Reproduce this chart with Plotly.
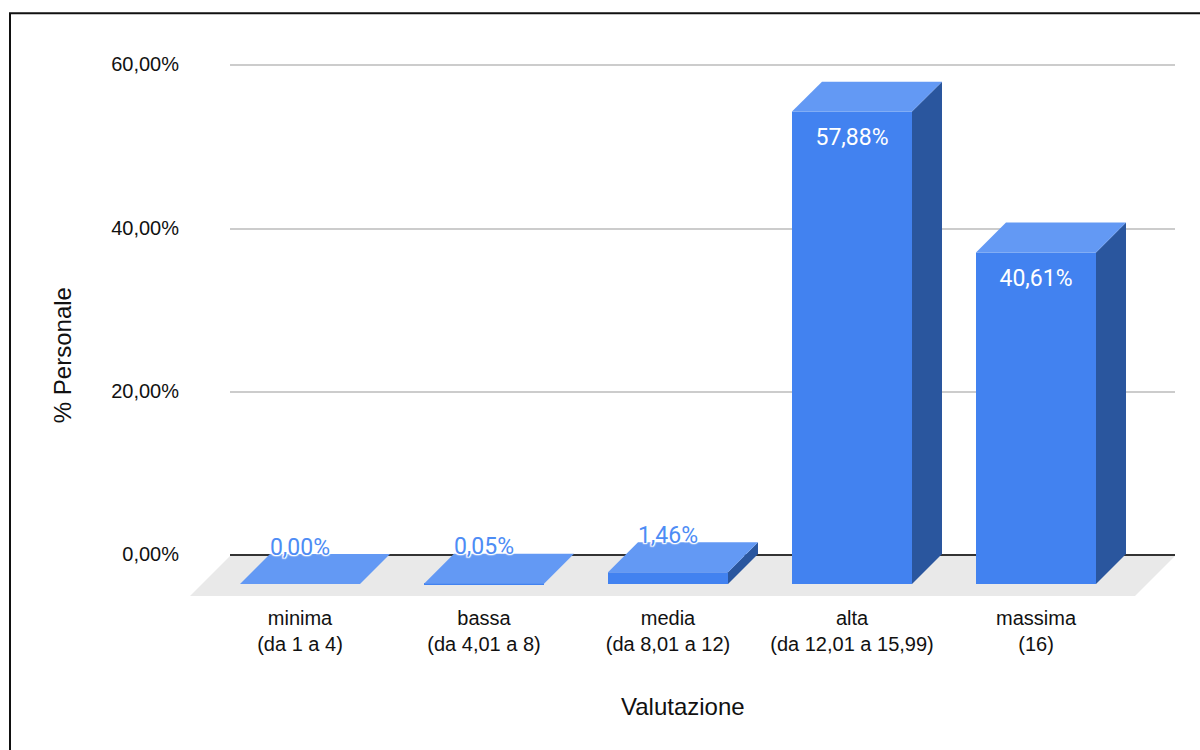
import plotly.graph_objects as go

# Chart content
categories = ["minima<br>(da 1 a 4)", "bassa<br>(da 4,01 a 8)", "media<br>(da 8,01 a 12)",
              "alta<br>(da 12,01 a 15,99)", "massima<br>(16)"]
values = [0.00, 0.05, 1.46, 57.88, 40.61]
value_labels = ["0,00%", "0,05%", "1,46%", "57,88%", "40,61%"]
y_ticks = [0, 20, 40, 60]
y_tick_labels = ["0,00%", "20,00%", "40,00%", "60,00%"]

# Plot frame in pixels
W, H = 1200, 750
LEFT, RIGHT, TOP, BOTTOM = 230, 1175, 48.67, 600
Y_MIN, Y_MAX = -5.5, 62
PX_PER_Y = (BOTTOM - TOP) / (Y_MAX - Y_MIN)
PITCH = 184.0
CENTER0 = 300.0
X_MIN = (LEFT - CENTER0) / PITCH
X_MAX = (RIGHT - CENTER0) / PITCH

# Pseudo-3D extrusion
DEPTH_X = 30 / PITCH
DEPTH_Y = 30 / PX_PER_Y
BAR_WIDTH = 120 / PITCH
BAR_BASE = -29 / PX_PER_Y

FRONT = "#4282f0"
TOP_FACE = "#6399f4"
SIDE = "#2a569e"
FLOOR = "#e9e9e9"
TEXT = "#111111"
SANS = "Liberation Sans, Arial, sans-serif"


def paper_x(px):
    return (px - LEFT) / (RIGHT - LEFT)


def paper_y(px):
    return (BOTTOM - px) / (BOTTOM - TOP)


def polygon(xs, ys, color, name):
    return go.Scatter(x=xs + xs[:1], y=ys + ys[:1], mode="lines", fill="toself", fillcolor=color,
                      line=dict(width=0, color=color), hoverinfo="skip", showlegend=False,
                      cliponaxis=False, name=name)


fig = go.Figure()

# Front faces
idx = list(range(len(categories)))
fig.add_trace(go.Bar(x=idx, y=values, base=BAR_BASE, width=BAR_WIDTH,
                     marker=dict(color=FRONT, line=dict(width=0)),
                     showlegend=False, hoverinfo="skip", cliponaxis=False))

# Top and side faces derived from each value
for i, v in zip(idx, values):
    x0 = i - BAR_WIDTH / 2
    x1 = i + BAR_WIDTH / 2
    top = BAR_BASE + v
    fig.add_trace(polygon([x1, x1 + DEPTH_X, x1 + DEPTH_X, x1],
                          [BAR_BASE, BAR_BASE + DEPTH_Y, top + DEPTH_Y, top], SIDE, "side"))
    fig.add_trace(polygon([x0, x1, x1 + DEPTH_X, x0 + DEPTH_X],
                          [top, top, top + DEPTH_Y, top + DEPTH_Y], TOP_FACE, "top"))

# Value labels: above the small bars with a white halo, inside the tall ones
halo = ("white 0 0 2px, white 0 0 2px, white 0 0 3px, white 1px 1px 1px, "
        "white -1px -1px 1px, white 1px -1px 1px, white -1px 1px 1px")
for i, v, lab in zip(idx, values, value_labels):
    tall = v > 20
    top = BAR_BASE + v
    y = top - 28 / PX_PER_Y if tall else top + DEPTH_Y + 5 / PX_PER_Y
    fig.add_trace(go.Scatter(
        x=[i], y=[y], mode="text", text=[lab], textposition="middle center",
        textfont=dict(family="Roboto, sans-serif", size=23,
                      color="#ffffff" if tall else "#4d8cf5",
                      shadow="none" if tall else halo),
        showlegend=False, hoverinfo="skip", cliponaxis=False))

# Floor slab, kept below the traces so the bars stand on it
floor_path = "M {} {} L {} {} L {} {} L {} {} Z".format(
    paper_x(LEFT), paper_y(556), paper_x(RIGHT), paper_y(556),
    paper_x(1135), paper_y(596), paper_x(190), paper_y(596))

fig.update_layout(
    width=W, height=H, autosize=False,
    margin=dict(l=LEFT, r=W - RIGHT, t=TOP, b=H - BOTTOM, pad=0),
    paper_bgcolor="white", plot_bgcolor="white",
    font=dict(family=SANS, size=20, color=TEXT),
    showlegend=False,
    xaxis=dict(range=[X_MIN, X_MAX], tickmode="array", tickvals=idx, ticktext=categories,
               showgrid=False, zeroline=False, showline=False, ticks="",
               ticklabelstandoff=4, automargin=False,
               tickfont=dict(family=SANS, size=20, color=TEXT)),
    yaxis=dict(range=[Y_MIN, Y_MAX], tickmode="array", tickvals=y_ticks, ticktext=y_tick_labels,
               showgrid=True, gridcolor="#cccccc", gridwidth=2,
               zeroline=True, zerolinecolor="#333333", zerolinewidth=2,
               showline=False, ticks="", ticklabelstandoff=50, ticklabelshift=-1, automargin=False,
               tickfont=dict(family=SANS, size=20, color=TEXT)),
    annotations=[
        dict(text="Valutazione", xref="paper", yref="paper",
             x=paper_x(683), y=paper_y(707),
             showarrow=False, xanchor="center", yanchor="middle",
             font=dict(family=SANS, size=24, color=TEXT)),
        dict(text="% Personale", xref="paper", yref="paper",
             x=paper_x(62), y=paper_y(355),
             showarrow=False, xanchor="center", yanchor="middle", textangle=-90,
             font=dict(family=SANS, size=24, color=TEXT)),
    ],
    shapes=[
        dict(type="path", xref="paper", yref="paper", layer="below", path=floor_path,
             fillcolor=FLOOR, line=dict(width=0)),
        dict(type="rect", xref="paper", yref="paper", layer="above",
             x0=paper_x(10), x1=paper_x(1220), y0=paper_y(770), y1=paper_y(13),
             line=dict(color="#111111", width=2), fillcolor="rgba(0,0,0,0)"),
    ],
)

fig.write_html("out.html", config=dict(displayModeBar=False))
